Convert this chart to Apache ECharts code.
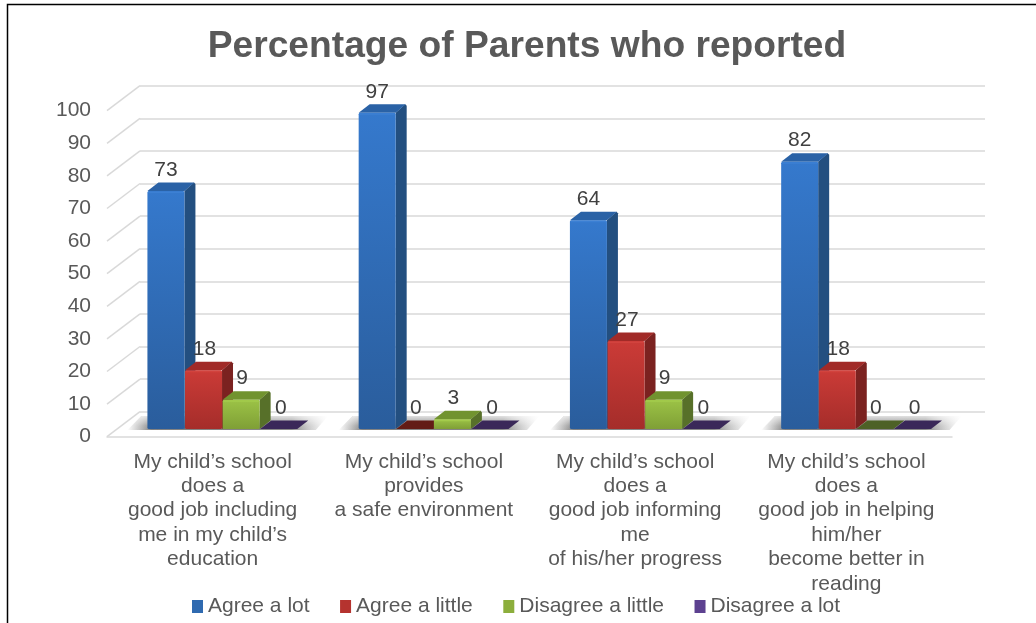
<!DOCTYPE html>
<html><head><meta charset="utf-8">
<style>html,body{margin:0;padding:0;background:#fff}#c{width:1036px;height:623px}</style>
<script src="https://cdn.jsdelivr.net/npm/echarts@6/dist/echarts.min.js"></script>
</head><body><div id="c"></div>
<script>
const categories = [
  "My child’s school\ndoes a\ngood job including\nme in my child’s\neducation",
  "My child’s school\nprovides\na safe environment",
  "My child’s school\ndoes a\ngood job informing\nme\nof his/her progress",
  "My child’s school\ndoes a\ngood job in helping\nhim/her\nbecome better in\nreading"
];
const agreeLot = [73, 97, 64, 82];
const agreeLittle = [18, 0, 27, 18];
const disagreeLittle = [9, 3, 9, 0];
const disagreeLot = [0, 0, 0, 0];
const yTicks = [0,10,20,30,40,50,60,70,80,90,100];

const FONT = 'Liberation Sans, Arial, sans-serif';
const WALL = {x:33, y:-25};
const PLANE = {x:10, y:-7.7};
const BAR_D = {x:11, y:-8.5};
const BAR_FRAC = 0.178;
const LABEL_SHIFT = [0,1,1,2];

const palettes = [
  {front:['#3579cd','#2a5d9c'], side:'#234f80', top:'#2a62a6', flat:'#234f80', legend:'#2f6ab0', bevel:'#3c80d4'},
  {front:['#cb3b37','#a52d2a'], side:'#7b2220', top:'#a12a27', flat:'#631c16', legend:'#b5332f', bevel:'#d2433e'},
  {front:['#9cc346','#7f9f36'], side:'#577029', top:'#71932f', flat:'#4d6127', legend:'#8cae3c', bevel:'#a4cb4c'},
  {front:['#6a4a9c','#553a80'], side:'#3d2a60', top:'#3d2a60', flat:'#3a2859', legend:'#5d4190', bevel:'#7352a8'}
];

function poly(points, fill){
  return {type:'polygon', shape:{points}, style:{fill}};
}
function barSeries(name, values, idx){
  const pal = palettes[idx];
  return {
    name, type:'custom', xAxisIndex:0, yAxisIndex:0, z:5+idx,
    itemStyle:{color:pal.legend},
    data: values.map((v,i)=>[i,v]),
    renderItem(params, api){
      const cat = api.value(0), val = api.value(1);
      const base = api.coord([cat,0]);
      const topC = api.coord([cat,val]);
      const band = api.size([1,0])[0];
      const w = band*BAR_FRAC;
      const x0 = base[0]+PLANE.x-2*w+idx*w;
      const x1 = x0+w-0.6;
      const yb = base[1]+PLANE.y;
      const yt = topC[1]+PLANE.y;
      const ch = [];
      if(val===0){
        ch.push(poly([[x0,yb],[x1,yb],[x1+BAR_D.x,yb+BAR_D.y],[x0+BAR_D.x,yb+BAR_D.y]],pal.flat));
      }else{
        ch.push(poly([[x1,yb],[x1+BAR_D.x,yb+BAR_D.y],[x1+BAR_D.x,yt+BAR_D.y+1.5],[x1+BAR_D.x-1.5,yt+BAR_D.y],[x1,yt]],pal.side));
        ch.push(poly([[x0,yt],[x1,yt],[x1+BAR_D.x-1,yt+BAR_D.y],[x0+BAR_D.x,yt+BAR_D.y]],pal.top));
        ch.push({type:'rect',shape:{x:x0,y:yt,width:x1-x0,height:yb-yt,r:1.5},
          style:{fill:new echarts.graphic.LinearGradient(0,0,0,1,[{offset:0,color:pal.front[0]},{offset:1,color:pal.front[1]}])}});
        ch.push({type:'rect',shape:{x:x0+0.5,y:yt+0.5,width:x1-x0-1,height:1.5,r:1},style:{fill:pal.bevel}});
      }
      ch.push({type:'text',z2:50,style:{text:String(val),x:(x0+x1)/2+LABEL_SHIFT[idx],y:yt-21,align:'center',verticalAlign:'middle',
        font:'21px '+FONT,fill:'#404040'}});
      return {type:'group',children:ch};
    }
  };
}
const shadowSeries = {
  type:'custom', xAxisIndex:0, yAxisIndex:0, z:3, silent:true, legendHoverLink:false,
  data: categories.map((c,i)=>[i,0]),
  renderItem(params, api){
    const base = api.coord([api.value(0),0]);
    const band = api.size([1,0])[0];
    const w = band*BAR_FRAC;
    const xl = base[0]+PLANE.x-2*w-20, xr = base[0]+PLANE.x+2*w+30;
    const yb = base[1]+PLANE.y+1, yt = yb-14;
    const pts = [[xl,yb],[xr-12,yb],[xr,yt],[xl+14,yt]];
    return {type:'group',children:[
      {type:'polygon',shape:{points:pts},
        style:{fill:new echarts.graphic.LinearGradient(0,0,1,0,[
          {offset:0,color:'rgba(120,120,120,0)'},{offset:0.12,color:'rgba(105,105,105,0.85)'},
          {offset:0.82,color:'rgba(105,105,105,0.8)'},{offset:1,color:'rgba(150,150,150,0)'}])}},
      {type:'polygon',shape:{points:pts},
        style:{fill:new echarts.graphic.LinearGradient(0,0,0,1,[
          {offset:0,color:'rgba(255,255,255,0.75)'},{offset:0.7,color:'rgba(255,255,255,0.1)'},{offset:1,color:'rgba(255,255,255,0)'}])}}
    ]};
  }
};
const wallDiagonals = {
  type:'custom', xAxisIndex:0, yAxisIndex:0, z:1, silent:true,
  data: yTicks.map(t=>[0,t]),
  renderItem(params, api){
    const band = api.size([1,0])[0];
    const p = api.coord([0,api.value(1)]);
    const x = p[0]-band/2;
    return {type:'line',shape:{x1:x,y1:p[1],x2:x+WALL.x,y2:p[1]+WALL.y},style:{stroke:'#d9d9d9',lineWidth:1.5}};
  }
};

const option = {
  animation:false,
  backgroundColor:'#fff',
  title:{text:'Percentage of Parents who reported',left:522,top:23,textAlign:'center',
    textStyle:{fontFamily:FONT,fontWeight:'bold',fontSize:37.2,color:'#595959'}},
  graphic:[{type:'polyline',silent:true,shape:{points:[[7.5,623],[7.5,4.5],[1036,4.5]]},style:{stroke:'#000',lineWidth:1.5,fill:null}}],
  legend:{show:true,left:187,top:591,itemWidth:11,itemHeight:13,itemGap:30.5,icon:'rect',
    textStyle:{fontFamily:FONT,fontSize:21,color:'#595959'},
    data:['Agree a lot','Agree a little','Disagree a little','Disagree a lot']},
  grid:[
    {left:107,right:84,top:110.7,bottom:186.3},
    {left:140,right:51,top:85.7,bottom:211.3}
  ],
  xAxis:[
    {type:'category',gridIndex:0,data:categories,axisTick:{show:false},
      axisLine:{lineStyle:{color:'#d9d9d9',width:1.5}},
      axisLabel:{interval:0,margin:13,fontFamily:FONT,fontSize:21,lineHeight:24.4,color:'#595959',verticalAlign:'top'}},
    {type:'category',gridIndex:1,data:categories,show:false}
  ],
  yAxis:[
    {type:'value',gridIndex:0,min:0,max:100,interval:10,axisLine:{show:false},axisTick:{show:false},splitLine:{show:false},
      axisLabel:{margin:16,fontFamily:FONT,fontSize:21,color:'#595959',padding:[2,0,0,0]}},
    {type:'value',gridIndex:1,min:0,max:100,interval:10,axisLine:{show:false},axisTick:{show:false},axisLabel:{show:false},
      splitLine:{show:true,lineStyle:{color:'#d9d9d9',width:1.5}}}
  ],
  series:[
    wallDiagonals, shadowSeries,
    barSeries('Agree a lot',agreeLot,0),
    barSeries('Agree a little',agreeLittle,1),
    barSeries('Disagree a little',disagreeLittle,2),
    barSeries('Disagree a lot',disagreeLot,3)
  ]
};
echarts.init(document.getElementById('c')).setOption(option);
</script></body></html>
